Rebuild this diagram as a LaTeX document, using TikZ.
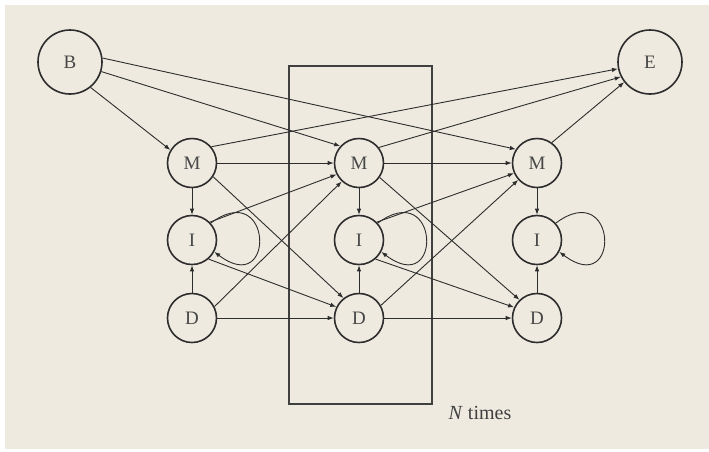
\documentclass[tikz,border=0pt]{standalone}
\usepackage{fontspec}
\setmainfont{Liberation Serif}
\usetikzlibrary{arrows.meta}
\definecolor{paper}{RGB}{238,234,223}
\definecolor{ink}{RGB}{45,45,45}

\begin{document}
\begin{tikzpicture}[x=1pt, y=-1pt,
    state/.style={circle, draw=ink, line width=1.6pt, minimum size=49pt, inner sep=0pt,
      font=\fontsize{19}{19}\selectfont, text=black!72},
    bigstate/.style={state, minimum size=64pt},
    arr/.style={-{Latex[length=6pt,width=4.5pt]}, draw=ink, line width=0.9pt}]
    \useasboundingbox (0,0) rectangle (709,451);
    \fill[white] (0,0) rectangle (709,451);
    \fill[paper] (5,5) rectangle (709,449);

    % begin and end
    \node[bigstate] (B) at (70,62) {B};
    \node[bigstate] (E) at (650,62) {E};

    % match / insert / delete columns
    \node[state] (M1) at (192,163) {M};
    \node[state] (I1) at (192,240) {I};
    \node[state] (D1) at (192,318) {D};
    \node[state] (M2) at (359,163) {M};
    \node[state] (I2) at (359,240) {I};
    \node[state] (D2) at (359,318) {D};
    \node[state] (M3) at (537,163) {M};
    \node[state] (I3) at (537,240) {I};
    \node[state] (D3) at (537,318) {D};

    % repeated block
    \draw[line width=1.8pt, draw=black!75] (289,66) rectangle (432,404);
    \node[font=\fontsize{20}{20}\selectfont, text=black!75] (times) at (480,413) {\textit{N} times};

    \draw[arr] (B.-51) -- (M1.149);
    \draw[arr] (B.-17) -- (M2.138);
    \draw[arr] (B.7) -- (M3.147);
    \draw[arr] (M1.40) -- (E.192);
    \draw[arr] (M2.38) -- (E.207);
    \draw[arr] (M3.54) -- (E.218);

    % first column to second
    \draw[arr] (M1) -- (M2);
    \draw[arr] (M1) -- (I1);
    \draw[arr] (M1.-33) -- (D2.128);
    \draw[arr] (I1.45) -- (M2.207);
    \draw[arr] (I1.-49) -- (D2.154);
    \draw[arr] (I1.42) .. controls +(62,-46) and +(62,47) .. (I1.-28);
    \draw[arr] (D1) -- (I1);
    \draw[arr] (D1.27) -- (M2.227);
    \draw[arr] (D1) -- (D2);

    % second column to third
    \draw[arr] (M2) -- (M3);
    \draw[arr] (M2) -- (I2);
    \draw[arr] (M2.-35) -- (D3.134);
    \draw[arr] (I2.45) -- (M3.204);
    \draw[arr] (I2.-49) -- (D3.155);
    \draw[arr] (I2.42) .. controls +(62,-46) and +(62,47) .. (I2.-28);
    \draw[arr] (D2) -- (I2);
    \draw[arr] (D2.30) -- (M3.222);
    \draw[arr] (D2) -- (D3);

    % last column
    \draw[arr] (M3) -- (I3);
    \draw[arr] (I3.42) .. controls +(62,-46) and +(62,47) .. (I3.-28);
    \draw[arr] (D3) -- (I3);
\end{tikzpicture}
\end{document}
